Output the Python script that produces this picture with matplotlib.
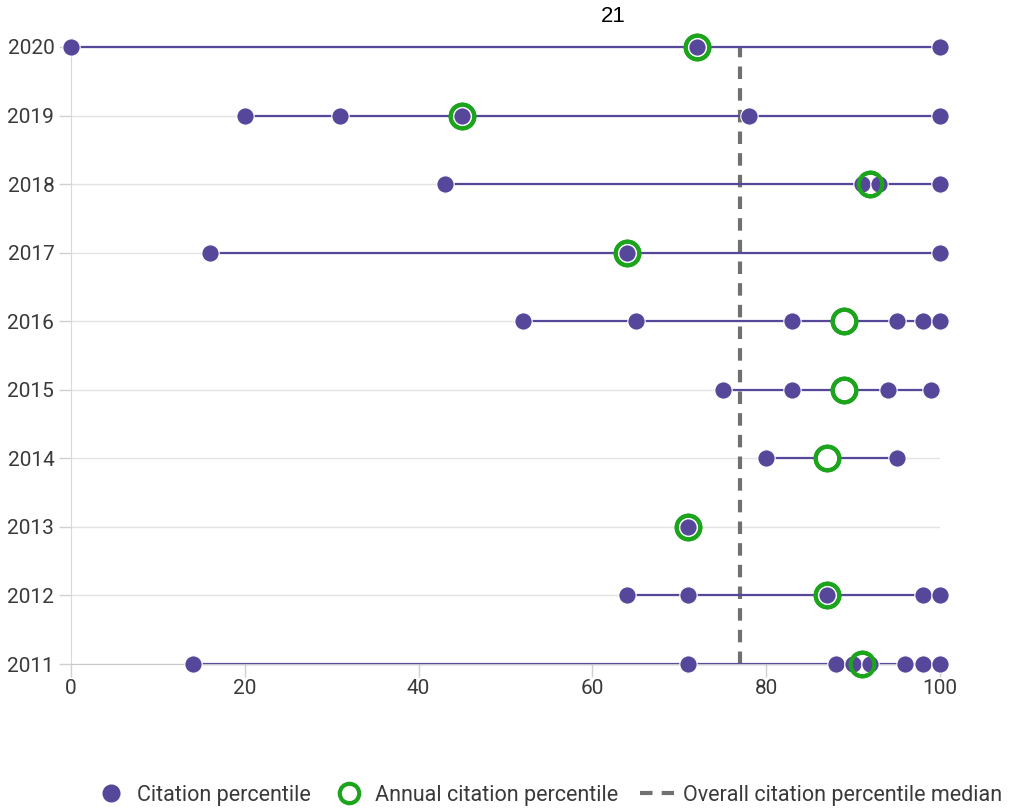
import matplotlib.pyplot as plt
from matplotlib.lines import Line2D

# datos
anios = [2020, 2019, 2018, 2017, 2016, 2015, 2014, 2013, 2012, 2011]
percentiles = [
    [0, 72, 100],
    [20, 31, 45, 78, 100],
    [43, 91, 93, 100],
    [16, 64, 100],
    [52, 65, 83, 95, 98, 100],
    [75, 83, 94, 99],
    [80, 95],
    [71],
    [64, 71, 87, 98, 100],
    [14, 71, 88, 90, 92, 96, 98, 100],
]
anual = [72, 45, 92, 64, 89, 89, 87, 71, 87, 91]
mediana = 77
titulo = "21"

morado = "#56479b"
verde = "#1ca51c"
gris = "#707070"
fuente = ["Roboto", "DejaVu Sans"]

fig = plt.figure(figsize=(10.21, 8.11), dpi=100)
ax = fig.add_axes([71 / 1021, 147 / 811, 869 / 1021, 617 / 811])

n = len(anios)
for i, (anio, valores, a) in enumerate(zip(anios, percentiles, anual)):
    y = n - 1 - i
    ax.axhline(y, color="#e3e3e3", lw=1, zorder=0)
    ax.plot([min(valores), max(valores)], [y, y], color=morado, lw=1.6, zorder=2,
            clip_on=False)
    # anillo con relleno blanco debajo de los puntos
    ax.plot(a, y, "o", ms=17, mfc="white", mec=verde, mew=3, zorder=3, clip_on=False)
    ax.plot(valores, [y] * len(valores), "o", ms=12.5, color=morado, mec="white",
            mew=0.8, zorder=4, clip_on=False)
    ax.plot(a, y, "o", ms=17, mfc="none", mec=verde, mew=3, zorder=5, clip_on=False)

ax.vlines(mediana, 0, n - 0.95, colors=gris, lw=3, linestyles=(0, (3, 2.2)), zorder=1)

ax.set_xlim(0, 100)
ax.set_ylim(0, n - 1)
ax.set_xticks(range(0, 101, 20))
ax.set_yticks(range(n))
ax.set_yticklabels(anios[::-1])
for s in ["top", "right"]:
    ax.spines[s].set_visible(False)
ax.spines["left"].set_color("#d8d8d8")
ax.spines["bottom"].set_color("#c8c8c8")
ax.tick_params(axis="both", colors="#d0d0d0", length=9, width=1, labelcolor="#3a3a3a",
               labelsize=15)
ax.tick_params(axis="x", pad=2)
ax.tick_params(axis="y", pad=3)
for lab in ax.get_xticklabels() + ax.get_yticklabels():
    lab.set_family(fuente)

fig.text(613 / 1021, 1 - 16 / 811, titulo, ha="center", va="center", fontsize=16,
         family="Liberation Sans")

elementos = [
    Line2D([], [], ls="none", marker="o", ms=12, color=morado, label="Citation percentile"),
    Line2D([], [], ls="none", marker="o", ms=14, mfc="none", mec=verde, mew=3,
           label="Annual citation percentile"),
    Line2D([], [], color=gris, lw=3, ls=(0, (3, 2.2)), label="Overall citation percentile median"),
]
fig.legend(handles=elementos, loc="center", bbox_to_anchor=(548 / 1021, 1 - 795 / 811),
           ncol=3, frameon=False, handlelength=1.6, columnspacing=1.0, handletextpad=0.4,
           prop={"family": fuente, "size": 15.5}, labelcolor="#3a3a3a")

fig.savefig("out.png", dpi=100)
